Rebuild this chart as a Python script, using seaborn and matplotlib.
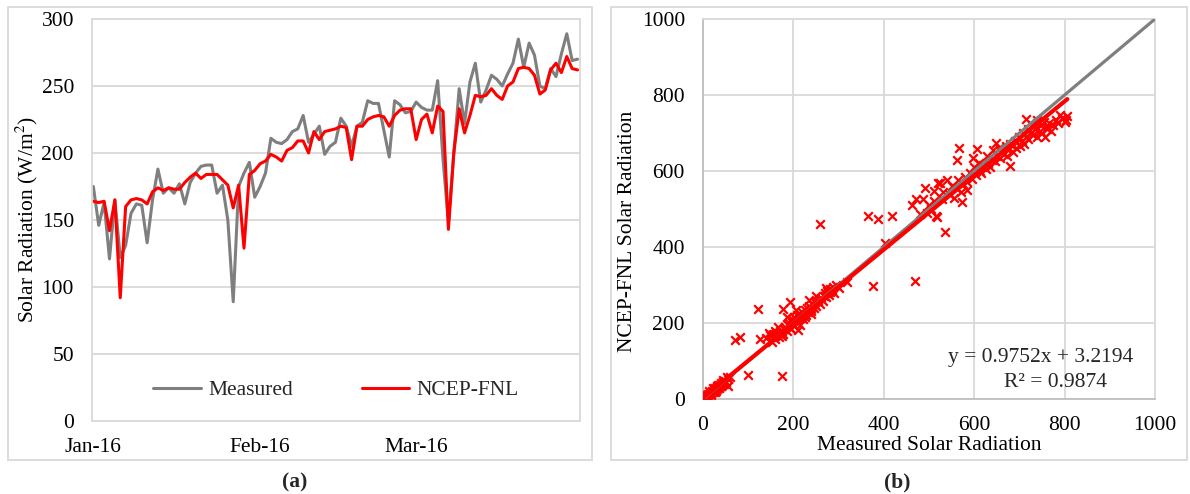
import numpy as np
import pandas as pd
import matplotlib
matplotlib.use("Agg")
import matplotlib.pyplot as plt
import matplotlib.dates as mdates
from matplotlib.patches import Rectangle
from matplotlib.lines import Line2D
import seaborn as sns

# ---------------- data: panel (a) daily series ----------------
start_date = "2016-01-01"
measured = [
    175, 146, 163, 121, 165, 122, 131, 155, 162, 161,
    133, 165, 188, 170, 174, 170, 177, 162, 178, 185,
    190, 191, 191, 170, 176, 150, 89, 175, 185, 193,
    167, 175, 185, 211, 208, 207, 210, 216, 218, 228,
    208, 214, 220, 199, 205, 208, 226, 220, 205, 220,
    223, 239, 237, 237, 217, 197, 239, 236, 230, 231,
    238, 234, 232, 232, 254, 195, 148, 200, 248, 222,
    253, 267, 238, 247, 258, 255, 250, 259, 267, 285,
    264, 282, 273, 250, 248, 263, 257, 274, 289, 269,
    270,
]
ncep = [
    164, 163, 164, 142, 165, 92, 160, 165, 166, 165,
    162, 171, 174, 172, 174, 173, 173, 178, 182, 185,
    181, 184, 184, 184, 180, 176, 159, 176, 129, 184,
    187, 192, 194, 199, 197, 194, 202, 204, 209, 209,
    200, 216, 210, 216, 217, 218, 220, 219, 195, 220,
    220, 225, 227, 228, 227, 220, 228, 232, 233, 233,
    210, 225, 229, 215, 235, 231, 143, 200, 233, 215,
    228, 243, 242, 243, 248, 243, 240, 250, 253, 263,
    264, 263, 258, 244, 247, 262, 267, 260, 272, 263,
    262,
]
series_names = ["Measured", "NCEP-FNL"]
x_tick_dates = ["2016-01-01", "2016-02-01", "2016-03-01"]
y_ticks_a = [0, 50, 100, 150, 200, 250, 300]

# ---------------- data: panel (b) scatter ----------------
meas_pts = [
    2, 5, 8, 10, 12, 15, 18, 20, 22, 25, 27, 30, 32, 35, 38, 40, 42, 45, 48, 50,
    55, 56, 3, 6, 14, 28, 33, 36, 44, 52, 60, 0, 1, 4, 7, 11, 17, 23, 26, 31, 39, 46,
    70, 82, 122, 125, 100, 174, 192, 178, 211,
    140, 148, 152, 155, 158, 160, 162, 165, 168, 170, 172, 175, 178, 180, 182, 185,
    188, 190, 192, 195, 198, 200, 202, 205, 208, 210, 212, 215, 218, 220, 222, 225,
    228, 230, 232, 235, 238, 240, 242, 245, 248, 250, 255, 258, 262, 265, 268, 270,
    272, 275, 278, 280, 282, 285, 288, 290, 295, 300, 318, 273, 205, 215, 185, 165,
    195, 235, 250, 160, 145, 175, 225, 240,
    259, 364, 388, 418, 377, 468, 402, 472, 487, 491, 511, 520, 462, 480, 500, 516,
    535, 518, 525, 540, 572, 583, 566, 561, 607, 598, 649, 679, 715, 738, 789, 804,
    757, 761,
    495, 505, 510, 528, 530, 545, 550, 555, 560, 565, 570, 575, 580, 585, 590, 595,
    600, 605, 610, 612, 615, 620, 625, 628, 630, 635, 640, 642, 645, 650, 655, 658,
    660, 665, 670, 672, 675, 680, 685, 690, 692, 695, 700, 702, 705, 708, 710, 715,
    718, 720, 725, 728, 730, 735, 738, 740, 745, 748, 750, 755, 760, 765, 770, 775,
    780, 785, 795, 800, 806,
]
ncep_pts = [
    3, 4, 6, 9, 14, 12, 17, 22, 18, 24, 28, 26, 31, 33, 36, 42, 38, 44, 47, 46,
    52, 34, 8, 2, 20, 22, 38, 28, 50, 58, 57, 0, 2, 1, 10, 6, 11, 29, 19, 35, 33, 40,
    155, 162, 236, 157, 63, 61, 256, 238, 182,
    160, 168, 150, 172, 165, 158, 170, 175, 162, 178, 168, 180, 172, 185, 190, 178,
    195, 200, 188, 205, 210, 195, 215, 208, 220, 200, 225, 212, 218, 230, 210, 235,
    222, 240, 228, 245, 232, 236, 250, 240, 255, 245, 258, 250, 265, 258, 272, 280,
    268, 285, 275, 290, 282, 288, 295, 280, 300, 292, 309, 292, 235, 195, 215, 190,
    185, 260, 270, 180, 175, 165, 215, 225,
    461, 482, 474, 482, 298, 311, 410, 525, 525, 554, 548, 569, 510, 488, 510, 482,
    440, 480, 568, 576, 519, 550, 660, 629, 657, 633, 673, 614, 736, 733, 747, 734,
    690, 716,
    490, 500, 520, 525, 545, 540, 560, 530, 555, 575, 545, 565, 585, 570, 595, 580,
    610, 590, 620, 600, 595, 615, 605, 640, 620, 610, 630, 655, 625, 640, 660, 635,
    650, 645, 665, 640, 655, 670, 650, 680, 660, 675, 690, 665, 680, 700, 670, 690,
    710, 685, 700, 720, 695, 710, 690, 725, 705, 720, 700, 730, 710, 725, 705, 720,
    735, 725, 740, 730, 745,
]
slope = 0.9752
intercept = 3.2194
r_squared = 0.9874
ticks_b = [0, 200, 400, 600, 800, 1000]

# ---------------- style ----------------
sns.set_theme(style="white")
plt.rcParams["font.family"] = ["Liberation Serif", "DejaVu Serif"]
plt.rcParams["mathtext.fontset"] = "stix"
FS = 15.5
GRID = "#d9d9d9"
GRAY = "#7f7f7f"
RED = "#ff0000"

W, H = 1190, 494
fig = plt.figure(figsize=(W / 100, H / 100), dpi=100)


def fx(px):
    return px / W


def fy(py):
    return 1 - py / H


# chart-area frames
for (x0, x1) in [(8, 592), (611, 1187)]:
    fig.patches.append(Rectangle((fx(x0), fy(460)), fx(x1) - fx(x0), fy(7) - fy(460),
                                 transform=fig.transFigure, fill=False,
                                 edgecolor=GRID, lw=1.3, zorder=0))

# ---------------- panel (a) ----------------
axa = fig.add_axes([fx(92), fy(421), fx(580) - fx(92), fy(19) - fy(421)])
dates = pd.date_range(start_date, periods=len(measured), freq="D")
df = pd.DataFrame({
    "date": list(dates) * 2,
    "value": measured + ncep,
    "series": [series_names[0]] * len(measured) + [series_names[1]] * len(ncep),
})
sns.lineplot(data=df, x="date", y="value", hue="series",
             palette={series_names[0]: GRAY, series_names[1]: RED},
             linewidth=2.2, ax=axa, legend=False)
axa.set_ylim(y_ticks_a[0], y_ticks_a[-1])
axa.set_yticks(y_ticks_a)
axa.set_xlim(dates[0] - pd.Timedelta(hours=6), dates[-1] + pd.Timedelta(hours=11))
axa.set_xticks(pd.to_datetime(x_tick_dates))
axa.xaxis.set_major_formatter(mdates.DateFormatter("%b-%y"))
axa.grid(axis="y", color=GRID, lw=1.3)
axa.set_axisbelow(True)
for s in axa.spines.values():
    s.set_color(GRID)
    s.set_linewidth(1.3)
axa.tick_params(axis="y", length=0, pad=13, labelsize=FS, labelcolor="black")
axa.tick_params(axis="x", direction="in", length=5, color=GRID, width=1.3,
                pad=12, labelsize=FS, labelcolor="black")
axa.set_xlabel("")
axa.set_ylabel("Solar Radiation (W/m$^2$)", fontsize=FS, color="black", va="center")
axa.yaxis.set_label_coords(-(92 - 27) / (580 - 92), (421 - 219) / (421 - 19))
handles = [Line2D([], [], color=GRAY, lw=2.2), Line2D([], [], color=RED, lw=2.2)]
axa.legend(handles, series_names, loc="center", bbox_to_anchor=(0.5, 0.077),
           ncol=2, frameon=False, fontsize=FS, handlelength=2.2,
           handletextpad=0.35, columnspacing=3.2)
fig.text(fx(295), fy(482), "(a)", ha="center", va="center",
         fontsize=FS, fontweight="bold")

# ---------------- panel (b) ----------------
axb = fig.add_axes([fx(703), fy(399), fx(1155) - fx(703), fy(19) - fy(399)])
dfb = pd.DataFrame({"Measured": meas_pts, "NCEP": ncep_pts})
sns.scatterplot(data=dfb, x="Measured", y="NCEP", marker="x", color=RED,
                s=38, linewidth=1.6, ax=axb, zorder=3)
axb.plot([ticks_b[0], ticks_b[-1]], [ticks_b[0], ticks_b[-1]],
         color=GRAY, lw=2.3, zorder=4)
xr = np.array([0, max(meas_pts)])
axb.plot(xr, slope * xr + intercept, color=RED, lw=3.0, zorder=5)
axb.set_xlim(ticks_b[0], ticks_b[-1])
axb.set_ylim(ticks_b[0], ticks_b[-1])
axb.set_xticks(ticks_b)
axb.set_yticks(ticks_b)
axb.grid(True, color=GRID, lw=1.3)
axb.set_axisbelow(True)
for s in axb.spines.values():
    s.set_color(GRID)
    s.set_linewidth(1.3)
axb.spines["left"].set_color("#bfbfbf")
axb.spines["bottom"].set_color("#bfbfbf")
axb.tick_params(axis="both", length=0, labelsize=FS, labelcolor="black")
axb.tick_params(axis="y", pad=13)
axb.tick_params(axis="x", pad=12)
axb.set_xlabel("Measured Solar Radiation", fontsize=FS, color="black", va="center")
axb.set_ylabel("NCEP-FNL Solar Radiation", fontsize=FS, color="black", va="center")
axb.yaxis.set_label_coords(-(703 - 628) / (1155 - 703), (399 - 231) / (399 - 19))
axb.xaxis.set_label_coords(0.5, -(445 - 399) / (399 - 19))
axb.text((1041 - 703) / (1155 - 703), (399 - 357) / (399 - 19),
         f"y = {slope:.4f}x + {intercept:.4f}", transform=axb.transAxes,
         ha="center", va="center", fontsize=FS, zorder=6)
axb.text((1056 - 703) / (1155 - 703), (399 - 382) / (399 - 19),
         f"R² = {r_squared:.4f}", transform=axb.transAxes,
         ha="center", va="center", fontsize=FS, zorder=6)
fig.text(fx(897), fy(482), "(b)", ha="center", va="center",
         fontsize=FS, fontweight="bold")

fig.savefig("out.png", dpi=100)
